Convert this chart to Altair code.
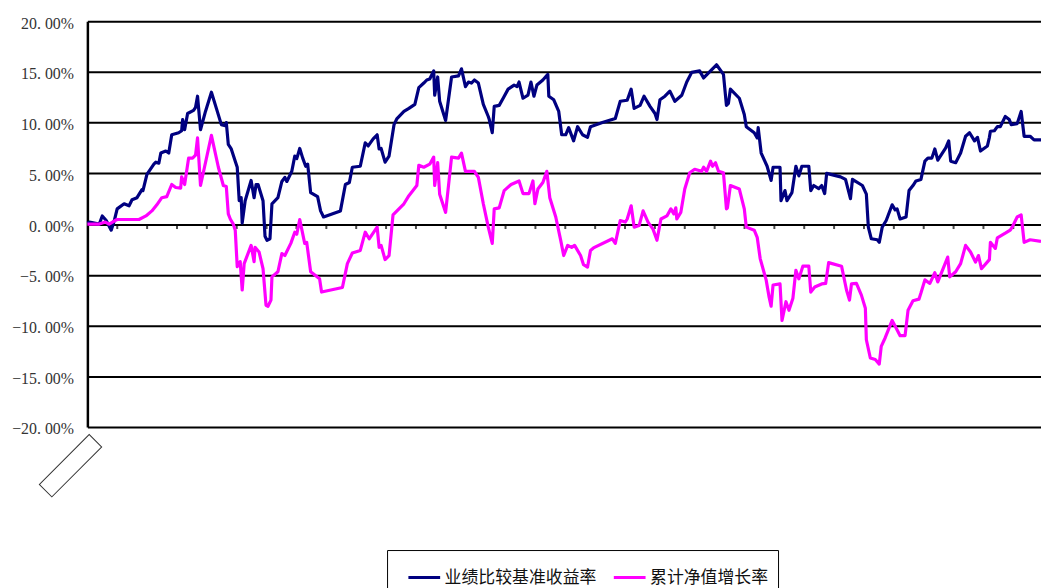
import altair as alt
import pandas as pd

# ---- data (x = trading-day index, y = percent) ----
bench_day = [0, 2, 12, 15, 19, 24, 27, 30, 37, 42, 45, 50, 55, 56, 60, 67, 69, 72, 74, 79, 82, 85, 92, 95, 96, 98,
             101, 107, 109, 111, 114, 119, 125, 130, 135, 139, 140, 142, 145, 149, 151, 153, 155, 156, 159, 165,
             168, 170, 172, 177, 179, 181, 184, 186, 192, 196, 199, 201, 206, 209, 211, 214, 217, 220, 222, 225,
             232, 235, 238, 255, 260, 264, 267, 275, 280, 283, 288, 292, 294, 296, 300, 304, 309, 312, 319, 324,
             330, 334, 339, 342, 345, 349, 350, 353, 355, 361, 367, 374, 377, 381, 384, 387, 390, 394, 399, 404,
             405, 408, 410, 415, 419, 424, 430, 433, 435, 439, 444, 447, 450, 453, 459, 464, 465, 470, 475, 478,
             482, 485, 490, 494, 499, 504, 507, 519, 532, 537, 544, 548, 551, 557, 561, 567, 572, 574, 577, 582,
             587, 592, 599, 604, 609, 617, 621, 629, 634, 641, 644, 646, 648, 657, 662, 664, 672, 675, 676, 679,
             685, 689, 691, 698, 699, 703, 705, 710, 714, 717, 720, 727, 729, 732, 737, 740, 743, 745, 759, 764,
             769, 771, 781, 785, 787, 790, 796, 798, 801, 805, 811, 814, 816, 819, 825, 828, 832, 835, 840, 844,
             847, 851, 854, 857, 865, 868, 870, 875, 880, 885, 889, 894, 897, 900, 907, 909, 910, 914, 917, 920,
             925, 929, 931, 937, 941, 944, 950, 954, 961]
bench_val = [0.1, 0.2, 0.0, 0.8, 0.35, -0.6, 0.3, 1.5, 2.0, 1.8, 2.4, 2.6, 3.4, 3.3, 4.9, 5.9, 6.1, 6.0, 7.0, 7.2,
             7.0, 8.8, 9.0, 9.2, 10.3, 9.3, 10.9, 11.2, 11.5, 12.6, 9.3, 11.1, 13.0, 11.4, 9.8, 9.7, 10.0, 7.85,
             7.4, 6.2, 5.6, 2.3, 2.6, 0.1, 2.3, 4.3, 2.6, 3.9, 3.9, 2.3, -1.2, -1.6, -1.45, 2.0, 2.6, 4.2, 4.6,
             4.2, 5.2, 6.7, 6.45, 7.45, 6.5, 5.7, 5.9, 3.1, 2.7, 1.3, 0.7, 1.3, 3.9, 4.1, 5.6, 5.7, 8.0, 7.7, 8.4,
             8.8, 7.4, 7.45, 6.1, 6.7, 9.8, 10.4, 11.1, 11.4, 11.8, 13.45, 13.9, 14.2, 14.3, 15.1, 12.7, 14.5,
             12.1, 10.2, 14.5, 14.6, 15.3, 13.55, 14.0, 13.9, 14.2, 13.9, 11.8, 10.6, 10.3, 9.0, 11.6, 11.7,
             12.4, 13.3, 13.7, 13.55, 14.0, 12.4, 12.7, 14.0, 12.6, 13.7, 14.2, 14.75, 12.6, 12.25, 11.1, 8.8,
             8.8, 9.5, 8.2, 9.6, 8.8, 8.55, 9.6, 10.0, 10.4, 12.1, 12.2, 13.3, 11.4, 11.7, 12.6, 11.6, 10.9,
             10.3, 12.25, 12.6, 13.1, 12.1, 12.7, 14.0, 14.95, 15.1, 14.4, 15.2, 15.7, 14.75, 11.7, 11.9, 13.3,
             12.4, 10.8, 9.6, 9.0, 8.5, 9.5, 7.0, 5.7, 4.3, 5.6, 5.6, 2.3, 3.3, 2.3, 3.1, 5.7, 4.75, 5.7, 5.7,
             3.3, 3.8, 3.5, 3.8, 3.0, 5.0, 4.65, 4.4, 2.5, 4.4, 3.8, 2.95, -0.3, -1.45, -1.55, -1.8, -0.3, 0.35,
             1.9, 1.4, 1.5, 0.5, 0.7, 3.3, 3.8, 4.25, 4.4, 6.2, 6.5, 6.5, 7.4, 6.3, 7.5, 8.2, 6.2, 6.05, 7.0,
             8.65, 9.0, 8.2, 8.55, 7.2, 7.7, 8.55, 9.15, 9.2, 9.6, 9.6, 10.6, 10.3, 9.8, 9.9, 11.1, 8.65, 8.65,
             8.3, 8.3]

nav_day = [0, 12, 18, 22, 27, 30, 52, 59, 65, 70, 75, 80, 85, 89, 94, 95, 98, 102, 106, 109, 111, 114, 118, 125,
           132, 137, 140, 142, 144, 147, 149, 151, 154, 156, 158, 165, 168, 169, 173, 177, 180, 182, 185, 186,
           192, 196, 199, 205, 209, 211, 214, 219, 221, 225, 234, 236, 257, 262, 267, 275, 280, 284, 292, 294,
           296, 300, 304, 308, 315, 319, 324, 332, 334, 339, 345, 349, 350, 353, 355, 361, 367, 374, 377, 381,
           390, 394, 399, 404, 408, 410, 415, 420, 427, 435, 439, 445, 449, 451, 454, 459, 463, 466, 472, 477,
           480, 484, 488, 491, 497, 500, 504, 507, 510, 529, 532, 537, 542, 544, 548, 551, 556, 560, 565, 570,
           574, 578, 584, 588, 591, 593, 594, 598, 602, 607, 612, 619, 621, 624, 628, 630, 633, 636, 641, 644,
           645, 648, 657, 662, 664, 672, 675, 678, 684, 687, 689, 691, 698, 700, 704, 707, 711, 714, 717, 721,
           727, 729, 733, 740, 744, 747, 760, 765, 768, 770, 775, 780, 784, 785, 789, 794, 798, 800, 804, 811,
           815, 819, 824, 827, 832, 838, 840, 844, 849, 854, 857, 867, 869, 875, 880, 885, 890, 895, 898, 901,
           909, 910, 915, 917, 925, 930, 932, 937, 941, 944, 950, 961]
nav_val = [0.0, 0.0, 0.2, 0.0, 0.3, 0.45, 0.45, 0.8, 1.3, 1.9, 2.6, 2.7, 3.9, 3.6, 3.55, 4.65, 3.9, 6.5, 6.5, 6.8,
           8.5, 3.8, 5.6, 8.75, 5.6, 3.8, 3.7, 1.0, 0.5, 0.0, -0.6, -4.2, -3.7, -6.5, -3.9, -2.1, -3.7, -2.3,
           -2.75, -4.4, -8.0, -8.1, -7.5, -5.2, -4.7, -2.9, -3.1, -1.9, -0.8, -1.0, 0.45, -1.9, -1.8, -4.7,
           -5.4, -6.7, -6.25, -3.9, -2.85, -2.6, -0.8, -1.45, -0.3, -2.3, -2.1, -3.5, -3.1, 0.9, 1.6, 2.0, 2.8,
           3.8, 5.8, 5.6, 5.9, 6.6, 3.8, 6.05, 2.95, 1.15, 6.6, 6.5, 7.0, 5.2, 5.2, 4.6, 2.0, -0.3, -1.9, 1.5,
           1.6, 3.3, 3.9, 4.25, 3.0, 3.0, 4.25, 2.0, 3.45, 4.1, 5.2, 2.6, 0.7, -1.6, -3.1, -2.1, -2.3, -2.1,
           -3.1, -4.0, -4.25, -2.6, -2.35, -1.45, -1.9, 0.35, 0.2, 0.5, 1.8, -0.3, -0.15, 1.3, 0.2, -0.5, -1.6,
           0.5, 0.8, 1.5, 1.0, 1.6, 0.5, 1.15, 3.45, 5.05, 5.4, 5.2, 5.6, 5.2, 6.2, 5.7, 6.05, 5.2, 5.05, 1.5,
           1.6, 3.8, 3.45, 1.5, -0.3, -0.6, -1.3, -3.4, -5.5, -7.2, -8.1, -6.0, -5.9, -9.5, -7.65, -8.5, -7.3,
           -4.55, -5.4, -4.15, -4.15, -6.7, -6.2, -5.9, -5.85, -3.8, -4.15, -6.5, -7.5, -5.9, -5.85, -7.0,
           -8.3, -11.4, -13.2, -13.35, -13.8, -12.05, -11.2, -9.5, -10.25, -11.0, -11.0, -8.5, -7.55, -7.4,
           -6.8, -5.5, -5.85, -4.8, -5.7, -3.25, -5.2, -4.7, -3.9, -2.1, -2.75, -3.75, -3.1, -4.4, -3.5, -1.8,
           -2.4, -1.35, -0.9, -0.6, -0.3, 0.7, 0.9, -1.8, -1.55, -1.7]

series_names = ["业绩比较基准收益率", "累计净值增长率"]
series_colors = ["#000080", "#FF00FF"]
y_ticks = [-20, -15, -10, -5, 0, 5, 10, 15, 20]
n_days = 961
tick_step = 30.1
tick_days = [round(tick_step * k, 1) for k in range(1, 32)]

df = pd.concat([
    pd.DataFrame({"day": bench_day, "value": bench_val, "series": series_names[0]}),
    pd.DataFrame({"day": nav_day, "value": nav_val, "series": series_names[1]}),
])
ticks_df = pd.DataFrame({"day": tick_days, "value": [0] * len(tick_days)})

x_scale = alt.Scale(domain=[0, n_days], nice=False, zero=False)
y_scale = alt.Scale(domain=[-20, 20], nice=False)

axis_y = alt.Axis(
    values=y_ticks, title=None, ticks=False, labelPadding=14, labelOffset=2,
    labelExpr="replace(format(datum.value, '.2f'), '.', '. ') + '%'",
    labelFont="Liberation Serif", labelFontSize=16, labelColor="#333",
    grid=True, gridColor="black", gridWidth=2, gridOpacity=1,
    domain=True, domainColor="black", domainWidth=2.5,
)

base_y = alt.Y("value:Q", scale=y_scale, axis=axis_y)

xticks = alt.Chart(ticks_df).mark_tick(orient="vertical", size=5, thickness=2, color="black", yOffset=2.5).encode(
    x=alt.X("day:Q", scale=x_scale, axis=None),
    y=alt.Y("value:Q", scale=y_scale),
)

lines = alt.Chart(df).mark_line(strokeWidth=3.2, strokeJoin="round").encode(
    x=alt.X("day:Q", scale=x_scale, axis=None),
    y=base_y,
    color=alt.Color(
        "series:N",
        scale=alt.Scale(domain=series_names, range=series_colors),
        sort=series_names,
        legend=alt.Legend(
            title=None, orient="none", legendX=302, legendY=533, direction="horizontal",
            symbolType="stroke", symbolSize=1024, symbolStrokeWidth=3,
            labelFont="Noto Sans CJK SC", labelFontSize=17, labelColor="#111", labelLimit=400,
            strokeColor="black", padding=10, symbolOffset=10, columnPadding=6, labelOffset=3,
        ),
    ),
)

label_box = alt.Chart(pd.DataFrame({"k": [0]})).mark_point(
    shape="M-1,-0.25L1,-0.25L1,0.25L-1,0.25Z", size=5041, angle=315,
    filled=True, fill="white", stroke="#333", strokeWidth=1, opacity=1,
).encode(x=alt.value(-17), y=alt.value(448))

chart = alt.layer(xticks, lines, label_box).properties(
    width=961, height=409,
    autosize=alt.AutoSizeParams(type="none"),
    padding={"left": 80, "top": 11, "right": 0, "bottom": 160},
).configure_view(stroke=None)

chart.save("out.html", embed_options={"renderer": "svg", "actions": False})
